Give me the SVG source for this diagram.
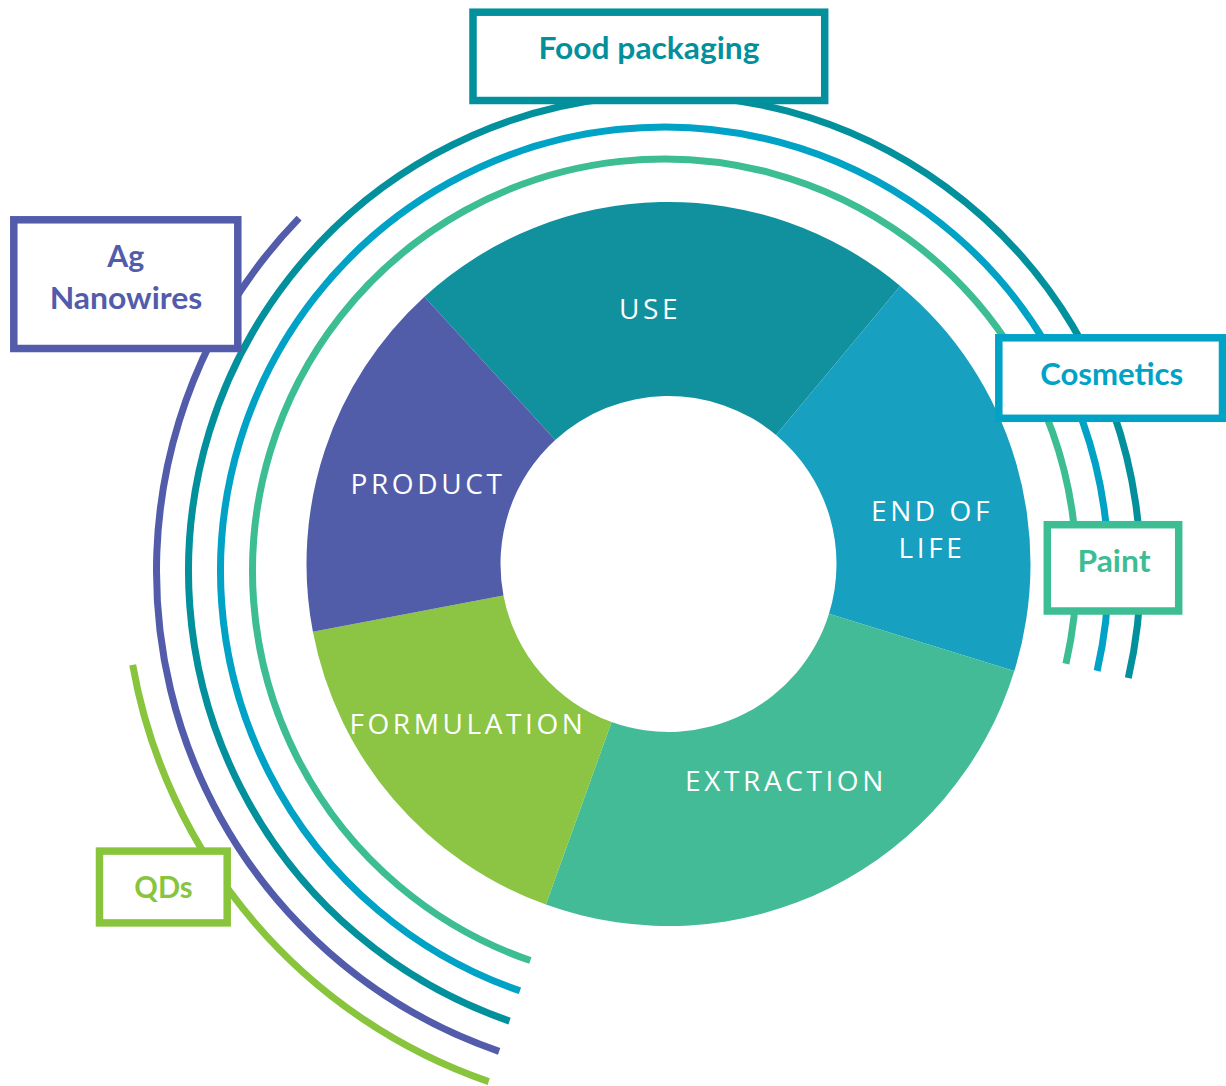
<svg xmlns="http://www.w3.org/2000/svg" width="1226" height="1086" viewBox="0 0 1226 1086">
<style>
.arc{fill:none;stroke-width:7;stroke-linecap:butt}
.box{fill:#ffffff;stroke-width:7.5}
.blabel{font-family:Lato,"Liberation Sans",sans-serif;font-weight:700;font-size:31px;text-anchor:middle}
.seg-label{font-family:"Open Sans","DejaVu Sans",sans-serif;font-weight:400;font-size:28px;letter-spacing:3.6px;fill:#ffffff;text-anchor:middle}
.teal{stroke:#03909D}
.blue{stroke:#00A2C6}
.green{stroke:#3DBD93}
.purple{stroke:#525CAB}
.lime{stroke:#88C53D}
</style>
<rect x="0" y="0" width="1226" height="1086" fill="#ffffff"/>
<g id="connectors">
<path class="arc green" d="M530.37,960.55 A412,412 0 1 1 1065.94,663.68"/>
<path class="arc blue" d="M519.95,990.81 A444,444 0 1 1 1097.12,670.88"/>
<path class="arc teal" d="M509.53,1021.07 A476,476 0 1 1 1128.30,678.08"/>
<path class="arc purple" d="M499.11,1051.32 A508,508 0 0 1 299.08,218.11"/>
<path class="arc lime" d="M488.69,1081.58 A540,540 0 0 1 132.70,664.77"/>
</g>
<g id="seg-use">
<path fill="#11909E" d="M424.40,296.68 A362,362 0 0 1 900.22,285.88 L776.04,434.93 A168,168 0 0 0 555.22,439.94 Z"/>
<text class="seg-label" x="650" y="319">USE</text>
</g>
<g id="seg-end-of-life">
<path fill="#17A0C0" d="M900.22,285.88 A362,362 0 0 1 1014.31,671.05 L828.99,613.68 A168,168 0 0 0 776.04,434.93 Z"/>
<text class="seg-label" x="932" y="521">END OF</text>
<text class="seg-label" x="932" y="558">LIFE</text>
</g>
<g id="seg-extraction">
<path fill="#43BB96" d="M1014.31,671.05 A362,362 0 0 1 545.88,904.60 L611.59,722.07 A168,168 0 0 0 828.99,613.68 Z"/>
<text class="seg-label" x="786" y="791">EXTRACTION</text>
</g>
<g id="seg-formulation">
<path fill="#8BC543" d="M545.88,904.60 A362,362 0 0 1 312.91,631.83 L503.48,595.48 A168,168 0 0 0 611.59,722.07 Z"/>
<text class="seg-label" x="468" y="734">FORMULATION</text>
</g>
<g id="seg-product">
<path fill="#525DA9" d="M312.91,631.83 A362,362 0 0 1 424.40,296.68 L555.22,439.94 A168,168 0 0 0 503.48,595.48 Z"/>
<text class="seg-label" x="428" y="494">PRODUCT</text>
</g>
<g id="box-food-packaging">
<rect class="box teal" x="473" y="12.2" width="351.7" height="88.3"/>
<text class="blabel" x="649" y="59.3" fill="#03909D" textLength="221" lengthAdjust="spacingAndGlyphs">Food packaging</text>
</g>
<g id="box-ag-nanowires">
<rect class="box purple" x="13.8" y="219.8" width="224" height="128.7"/>
<text class="blabel" x="125.7" y="266.7" fill="#525CAB" textLength="37" lengthAdjust="spacingAndGlyphs">Ag</text>
<text class="blabel" x="126" y="309.3" fill="#525CAB" textLength="152.7" lengthAdjust="spacingAndGlyphs">Nanowires</text>
</g>
<g id="box-cosmetics">
<rect class="box blue" x="998.8" y="337.8" width="223.7" height="80.5"/>
<text class="blabel" x="1111.7" y="385" fill="#00A2C6" textLength="143" lengthAdjust="spacingAndGlyphs">Cosmetics</text>
</g>
<g id="box-paint">
<rect class="box green" x="1047.3" y="524.7" width="131.4" height="86.3"/>
<text class="blabel" x="1114" y="572.3" fill="#3DBD93" textLength="73" lengthAdjust="spacingAndGlyphs">Paint</text>
</g>
<g id="box-qds">
<rect class="box lime" x="99.5" y="851.1" width="127.7" height="71.8"/>
<text class="blabel" x="163.5" y="897.7" fill="#88C53D" textLength="58.3" lengthAdjust="spacingAndGlyphs">QDs</text>
</g>
</svg>
